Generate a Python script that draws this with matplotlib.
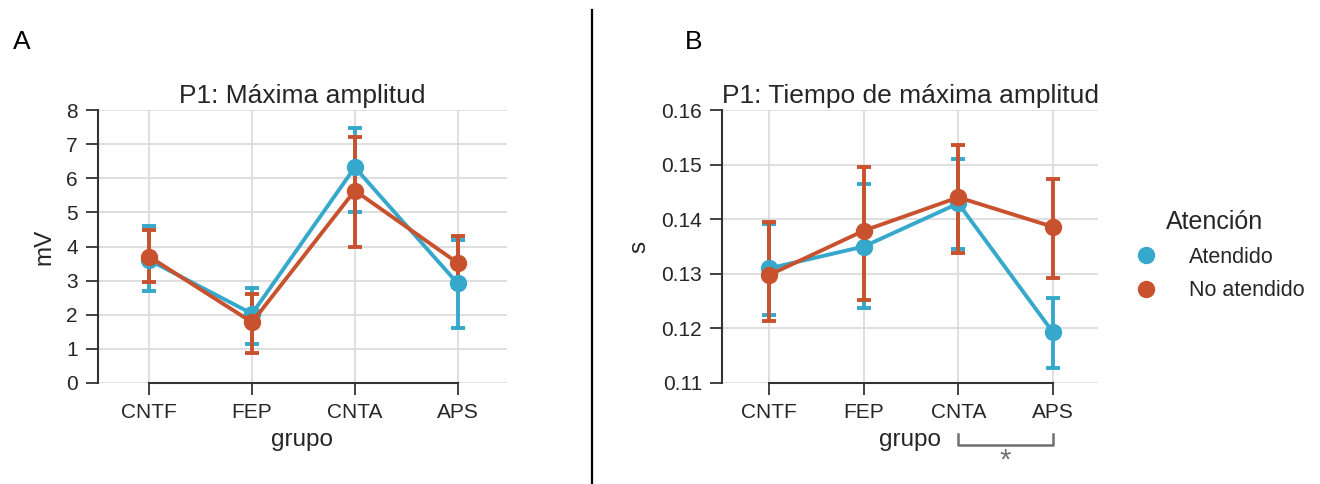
import matplotlib
matplotlib.use("Agg")
import matplotlib.pyplot as plt
from matplotlib.lines import Line2D
from matplotlib.transforms import blended_transform_factory
import numpy as np

plt.rcParams["font.family"] = ["Liberation Sans", "DejaVu Sans"]

grupos = ["CNTF", "FEP", "CNTA", "APS"]
condiciones = ["Atendido", "No atendido"]
colores = ["#35a8cc", "#c9522e"]

# Panel A: maxima amplitud (mV)
amp_media = {
    "Atendido": [3.6, 2.03, 6.32, 2.92],
    "No atendido": [3.7, 1.78, 5.64, 3.52],
}
amp_inf = {
    "Atendido": [2.7, 1.15, 5.0, 1.6],
    "No atendido": [2.95, 0.87, 4.0, 2.8],
}
amp_sup = {
    "Atendido": [4.6, 2.78, 7.47, 4.2],
    "No atendido": [4.47, 2.6, 7.22, 4.3],
}

# Panel B: tiempo de maxima amplitud (s)
tiempo_media = {
    "Atendido": [0.131, 0.135, 0.1429, 0.1193],
    "No atendido": [0.1298, 0.1379, 0.1440, 0.1386],
}
tiempo_inf = {
    "Atendido": [0.1225, 0.1237, 0.1345, 0.1127],
    "No atendido": [0.1214, 0.1252, 0.1339, 0.1292],
}
tiempo_sup = {
    "Atendido": [0.1391, 0.1464, 0.1510, 0.1255],
    "No atendido": [0.1394, 0.1495, 0.1536, 0.1474],
}

TEXT = "#262626"
SPINE = "#333333"


def draw_panel(ax, media, inf, sup, title, ylabel, ylim, yticks, yfmt):
    x = np.arange(len(grupos))
    for cond, color in zip(condiciones, colores):
        m = np.array(media[cond])
        lo = m - np.array(inf[cond])
        hi = np.array(sup[cond]) - m
        ax.errorbar(
            x, m, yerr=[lo, hi], color=color, lw=2.8, marker="o", ms=11.5,
            elinewidth=2.8, capsize=5, capthick=2.8, zorder=3,
        )
    ax.set_xlim(-0.5, 3.48)
    ax.set_ylim(*ylim)
    ax.set_xticks(x)
    ax.set_xticklabels(grupos)
    ax.set_yticks(yticks)
    ax.set_yticklabels([yfmt.format(v) for v in yticks])
    ax.grid(True, color="#dcdcdc", lw=1.3, zorder=0)
    ax.set_axisbelow(True)
    for side in ("top", "right"):
        ax.spines[side].set_visible(False)
    for side in ("left", "bottom"):
        ax.spines[side].set_color(SPINE)
        ax.spines[side].set_linewidth(1.5)
    ax.spines["left"].set_bounds(yticks[0], yticks[-1])
    ax.spines["bottom"].set_bounds(0, len(grupos) - 1)
    ax.tick_params(axis="both", length=8.5, width=1.3, color=SPINE,
                   labelsize=15, labelcolor=TEXT, pad=6)
    ax.set_title(title, fontsize=19, color=TEXT, pad=5)
    ax.set_xlabel("grupo", fontsize=17.5, color=TEXT, labelpad=5)
    ax.set_ylabel(ylabel, fontsize=17.5, color=TEXT, labelpad=8)


fig = plt.figure(figsize=(13.2, 4.84), dpi=100)
ax_a = fig.add_axes([0.0742, 0.2087, 0.3098, 0.564])
ax_b = fig.add_axes([0.547, 0.2087, 0.285, 0.564])

draw_panel(ax_a, amp_media, amp_inf, amp_sup, "P1: Máxima amplitud", "mV",
           (0, 8), list(range(0, 9)), "{:d}")
draw_panel(ax_b, tiempo_media, tiempo_inf, tiempo_sup,
           "P1: Tiempo de máxima amplitud", "s",
           (0.11, 0.16), [0.11, 0.12, 0.13, 0.14, 0.15, 0.16], "{:.2f}")

# significance bracket CNTA - APS
trans = blended_transform_factory(ax_b.transData, ax_b.transAxes)
ax_b.plot([2, 2, 3, 3], [-0.187, -0.227, -0.227, -0.187], transform=trans,
          color="#707070", lw=1.8, clip_on=False)
ax_b.text(2.5, -0.285, "*", transform=trans, ha="center", va="center",
          fontsize=21, color="#707070")

handles = [Line2D([], [], ls="none", marker="o", ms=11.5, color=c) for c in colores]
leg = fig.legend(handles, condiciones, title="Atención", loc="center left",
                 bbox_to_anchor=(0.837, 0.472), frameon=False, fontsize=15.5,
                 title_fontsize=18, handletextpad=1.0, labelspacing=0.6)
for t in leg.get_texts():
    t.set_color(TEXT)
leg.get_title().set_color(TEXT)

fig.text(0.010, 0.913, "A", fontsize=19, color="black", va="center")
fig.text(0.519, 0.913, "B", fontsize=19, color="black", va="center")
fig.add_artist(Line2D([0.4485, 0.4485], [0.0, 0.98], color="black", lw=1.6,
                      transform=fig.transFigure))

fig.savefig("out.png", dpi=100)
